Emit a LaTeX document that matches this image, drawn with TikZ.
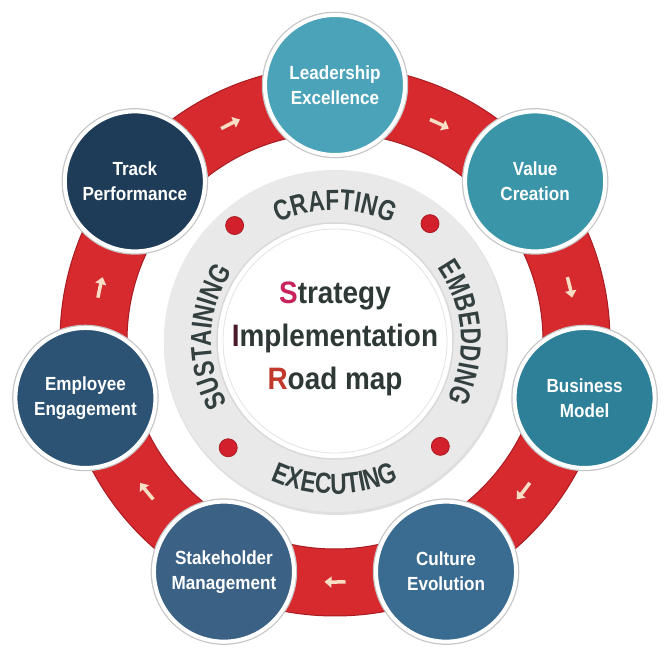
\documentclass[tikz,border=0pt]{standalone}
\usepackage{fontspec}
\usetikzlibrary{decorations.text}
\usetikzlibrary{arrows.meta}

\newfontfamily\roadfont[FakeStretch=0.9]{Liberation Sans}
\newfontfamily\arcfont[FakeStretch=0.78]{Liberation Sans}

\definecolor{ringred}{HTML}{D62A2E}
\definecolor{ringdark}{HTML}{A81C22}
\definecolor{arrowcream}{HTML}{F8DEC4}
\definecolor{hubgray}{HTML}{E9E9E9}
\definecolor{arcgray}{HTML}{34403F}
\definecolor{dotred}{HTML}{D2202C}
\definecolor{leadblue}{HTML}{4AA3B8}
\definecolor{valueblue}{HTML}{3A95A8}
\definecolor{busblue}{HTML}{2D8098}
\definecolor{cultblue}{HTML}{3A6B90}
\definecolor{stakeblue}{HTML}{3B6185}
\definecolor{empblue}{HTML}{2C5274}
\definecolor{trackblue}{HTML}{1E3C58}
\definecolor{sred}{HTML}{C8245A}
\definecolor{ired}{HTML}{4A1A2A}
\definecolor{rred}{HTML}{C0392B}
\definecolor{coregray}{HTML}{2E3836}

\tikzset{
  stage/.style={circle, minimum size=140pt, draw=white, line width=4pt,
    text=white, align=center,
    font=\roadfont\bfseries\fontsize{19}{25}\selectfont,
    preaction={draw=gray!45, line width=6.5pt}},
  flow/.style={arrowcream, line width=3.5pt, -{Triangle[length=7pt,width=11pt]}},
  arcword/.style={decorate, decoration={text along path, text align=center,
    text color=arcgray}}
}

\begin{document}
\begin{tikzpicture}[x=1pt,y=1pt]
  \useasboundingbox (-335,-322) rectangle (337,341);
  \fill[white] (-335,-322) rectangle (337,341);

  % red ring
  \fill[ringred, even odd rule] (0,0) circle (275pt) (0,0) circle (208pt);
  \draw[ringdark, line width=1pt] (0,0) circle (275pt);
  \draw[ringdark, line width=1pt] (0,0) circle (208pt);

  % arrows on the ring
  \draw[flow] (66.8:241) arc[start angle=66.8, end angle=61.8, radius=241];
  \draw[flow] (15.36:241) arc[start angle=15.36, end angle=10.36, radius=241];
  \draw[flow] (-36.07:241) arc[start angle=-36.07, end angle=-41.07, radius=241];
  \draw[flow] (-87.5:241) arc[start angle=-87.5, end angle=-92.5, radius=241];
  \draw[flow] (-138.93:241) arc[start angle=-138.93, end angle=-143.93, radius=241];
  \draw[flow] (169.64:241) arc[start angle=169.64, end angle=164.64, radius=241];
  \draw[flow] (118.21:241) arc[start angle=118.21, end angle=113.21, radius=241];

  % hub
  \fill[gray!25] (1,-2) circle (172pt);
  \fill[hubgray] (0,0) circle (171pt);
  \draw[gray!30, line width=1.5pt, fill=white] (0,0) circle (118pt);
  \draw[gray!22, line width=0.8pt] (0,0) circle (112pt);

  % dots
  \fill[dotred, draw=ringdark, line width=0.8pt] (131:153) circle (9pt);
  \fill[dotred, draw=ringdark, line width=0.8pt] (51:151) circle (9pt);
  \fill[dotred, draw=ringdark, line width=0.8pt] (225:151) circle (9pt);
  \fill[dotred, draw=ringdark, line width=0.8pt] (315:149) circle (9pt);

  % words round the hub
  \path[arcword, decoration={text={|\arcfont\bfseries\fontsize{29}{29}\selectfont|CRAFTING}}]
    (125:131) arc[start angle=125, end angle=55, radius=131];
  \path[arcword, decoration={text={|\arcfont\bfseries\fontsize{29}{29}\selectfont|EMBEDDING}}]
    (43:126) arc[start angle=43, end angle=-35, radius=126];
  \path[arcword, decoration={text={|\arcfont\bfseries\fontsize{29}{29}\selectfont|SUSTAINING}}]
    (218:124) arc[start angle=218, end angle=138, radius=124];
  \path[arcword, decoration={text={|\arcfont\bfseries\fontsize{29}{29}\selectfont|EXECUTING}}]
    (235:153) arc[start angle=235, end angle=305, radius=153];

  % centre
  \node[align=center, text=coregray,
    font=\roadfont\bfseries\fontsize{31}{43}\selectfont] (core) at (0,2)
    {\textcolor{sred}{S}trategy\\\textcolor{ired}{I}mplementation\\\textcolor{rred}{R}oad map};

  % stages
  \node[stage, fill=leadblue] (lead) at (90:256) {Leadership\\Excellence};
  \node[stage, fill=valueblue] (value) at (38.57:256) {Value\\Creation};
  \node[stage, fill=busblue] (business) at (-12.86:256) {Business\\Model};
  \node[stage, fill=cultblue] (culture) at (-64.29:256) {Culture\\Evolution};
  \node[stage, fill=stakeblue] (stake) at (-115.71:256) {Stakeholder\\Management};
  \node[stage, fill=empblue] (employee) at (-167.14:256) {Employee\\Engagement};
  \node[stage, fill=trackblue] (track) at (141.43:256) {Track\\Performance};
\end{tikzpicture}
\end{document}
